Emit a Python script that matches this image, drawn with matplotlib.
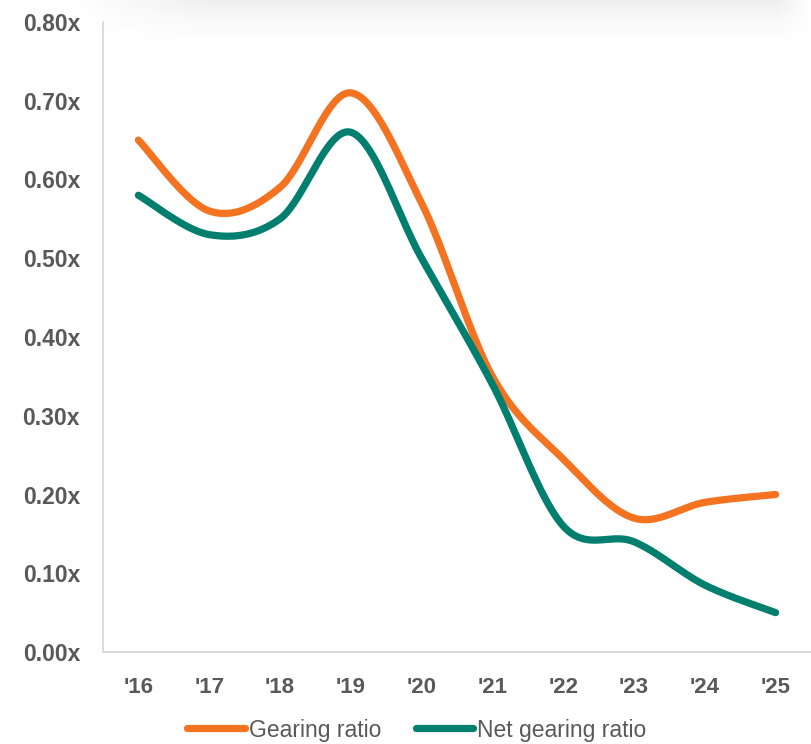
import numpy as np
import matplotlib
matplotlib.use("Agg")
import matplotlib.pyplot as plt
from matplotlib.ticker import FuncFormatter

years = ["'16", "'17", "'18", "'19", "'20", "'21", "'22", "'23", "'24", "'25"]
gearing = [0.65, 0.56, 0.59, 0.71, 0.57, 0.35, 0.245, 0.17, 0.19, 0.20]
net_gearing = [0.58, 0.53, 0.55, 0.66, 0.50, 0.34, 0.16, 0.14, 0.085, 0.05]

ORANGE = "#F47321"
TEAL = "#007F6E"
GREY = "#595959"

plt.rcParams["font.family"] = ["Liberation Sans", "DejaVu Sans"]


def smooth(xs, ys, steps=40):
    # cubic bezier through every point, control points like a Catmull-Rom spline
    xs = np.asarray(xs, float)
    ys = np.asarray(ys, float)
    px = np.concatenate([[xs[0]], xs, [xs[-1]]])
    py = np.concatenate([[ys[0]], ys, [ys[-1]]])
    out_x, out_y = [], []
    t = np.linspace(0, 1, steps)
    for i in range(1, len(px) - 2):
        p0 = np.array([px[i], py[i]])
        p3 = np.array([px[i + 1], py[i + 1]])
        c1 = p0 + (np.array([px[i + 1], py[i + 1]]) - np.array([px[i - 1], py[i - 1]])) / 6
        c2 = p3 - (np.array([px[i + 2], py[i + 2]]) - np.array([px[i], py[i]])) / 6
        b = ((1 - t) ** 3)[:, None] * p0 + (3 * (1 - t) ** 2 * t)[:, None] * c1 \
            + (3 * (1 - t) * t ** 2)[:, None] * c2 + (t ** 3)[:, None] * p3
        out_x.extend(b[:, 0])
        out_y.extend(b[:, 1])
    return np.array(out_x), np.array(out_y)


fig = plt.figure(figsize=(8.11, 7.44), dpi=100)

# soft grey shadow along the top edge
h, w = 60, 811
yy = np.linspace(0, 1, h)[:, None]
xx = np.arange(w)[None, :]
vert = np.clip(1 - yy / 0.8, 0, 1) ** 1.5
horiz = np.clip((xx - 70) / 140, 0, 1) * np.clip((811 - xx) / 35, 0, 1)
shade = np.zeros((h, w, 4))
shade[..., :3] = 0.55
shade[..., 3] = 0.14 * vert * horiz
bg = fig.add_axes([0, 0, 1, 1], zorder=-1)
bg.imshow(shade, extent=(0, 1, 1 - h / 744, 1), aspect="auto", interpolation="bilinear")
bg.set_xlim(0, 1)
bg.set_ylim(0, 1)
bg.axis("off")

ax = fig.add_axes([103 / 811, 1 - 652 / 744, 1 - 103 / 811, (652 - 22) / 744])
ax.patch.set_alpha(0)

x = np.arange(len(years))
for vals, color, label in [(gearing, ORANGE, "Gearing ratio"),
                           (net_gearing, TEAL, "Net gearing ratio")]:
    sx, sy = smooth(x, vals)
    ax.plot(sx, sy, color=color, lw=5.2, solid_capstyle="round", label=label)

ax.set_xlim(-0.5, len(years) - 0.5)
ax.set_ylim(0, 0.8)
ax.set_yticks(np.arange(0, 0.81, 0.1))
ax.yaxis.set_major_formatter(FuncFormatter(lambda v, _: f"{v:.2f}x"))
ax.set_xticks(x)
ax.set_xticklabels(years)

for s in ["top", "right"]:
    ax.spines[s].set_visible(False)
for s in ["left", "bottom"]:
    ax.spines[s].set_color("#D9D9D9")
    ax.spines[s].set_linewidth(1.3)

ax.tick_params(axis="both", length=0, labelcolor=GREY)
ax.tick_params(axis="y", pad=16.5, labelsize=16.5)
ax.tick_params(axis="x", pad=18, labelsize=16)
for lbl in ax.get_xticklabels() + ax.get_yticklabels():
    lbl.set_fontweight("bold")

handles, labels = ax.get_legend_handles_labels()
leg = fig.legend(handles, labels, loc="center", bbox_to_anchor=(0.514, 1 - 730 / 744),
                 ncol=2, frameon=False, fontsize=16.5, handlelength=2.5,
                 handletextpad=0.18, columnspacing=1.5, labelcolor=GREY)

fig.savefig("out.png", dpi=100)
